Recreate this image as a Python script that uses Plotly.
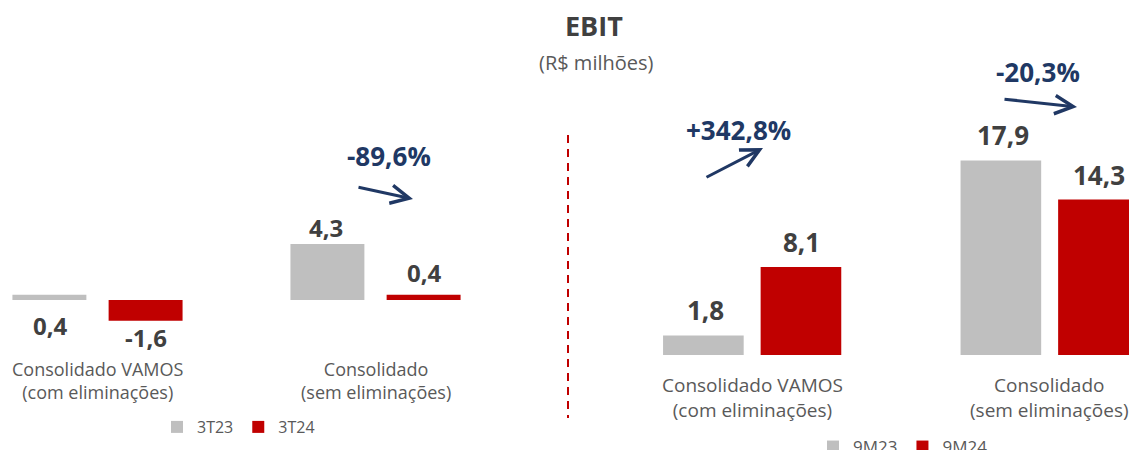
import plotly.graph_objects as go

W, H = 1129, 450

# ---------------- data ----------------
categories = ["Consolidado VAMOS<br>(com eliminações)", "Consolidado<br>(sem eliminações)"]
q_series = ["3T23", "3T24"]
q_3t23 = [0.4, 4.3]
q_3t24 = [-1.6, 0.4]
q_var = ["-89,6%"]          # variation shown for "Consolidado"

ytd_series = ["9M23", "9M24"]
ytd_9m23 = [1.8, 17.9]
ytd_9m24 = [8.1, 14.3]
ytd_var = ["+342,8%", "-20,3%"]

title = "EBIT"
subtitle = "(R$ milhões)"

# ---------------- styles ----------------
GRAY = "#BFBFBF"
RED = "#C00000"
NAVY = "#203864"
DARK = "#404040"
MID = "#595959"
FONT = "Open Sans"


def fmt(v):
    return f"{v:.1f}".replace(".", ",")


def px_x(p):
    return p / W


def px_y(p):
    return 1 - p / H


fig = go.Figure()

# bar geometry (category units)
L_W, L_OFF_A, L_OFF_B = 0.266, -0.306, 0.040
R_W, R_OFF_A, R_OFF_B = 0.271, -0.299, 0.029

fig.add_trace(go.Bar(x=categories, y=q_3t23, name=q_series[0], marker_color=GRAY,
                     marker_line_width=0, width=L_W, offset=L_OFF_A,
                     xaxis="x", yaxis="y", legend="legend"))
fig.add_trace(go.Bar(x=categories, y=q_3t24, name=q_series[1], marker_color=RED,
                     marker_line_width=0, width=L_W, offset=L_OFF_B,
                     xaxis="x", yaxis="y", legend="legend"))
fig.add_trace(go.Bar(x=categories, y=ytd_9m23, name=ytd_series[0], marker_color=GRAY,
                     marker_line_width=0, width=R_W, offset=R_OFF_A,
                     xaxis="x2", yaxis="y2", legend="legend2"))
fig.add_trace(go.Bar(x=categories, y=ytd_9m24, name=ytd_series[1], marker_color=RED,
                     marker_line_width=0, width=R_W, offset=R_OFF_B,
                     xaxis="x2", yaxis="y2", legend="legend2"))

ann = []
C = dict(xanchor="center", yanchor="middle", showarrow=False)

# value labels, left panel
val_font_l = dict(family=FONT, size=24, color=DARK)
ann.append(dict(x=categories[0], y=q_3t23[0], xref="x", yref="y", text="<b>" + fmt(q_3t23[0]) + "</b>",
                xshift=-47, yshift=-31, font=val_font_l, **C))
ann.append(dict(x=categories[0], y=q_3t24[0], xref="x", yref="y", text="<b>" + fmt(q_3t24[0]) + "</b>",
                xshift=48, yshift=-17, font=val_font_l, **C))
ann.append(dict(x=categories[1], y=q_3t23[1], xref="x", yref="y", text="<b>" + fmt(q_3t23[1]) + "</b>",
                xshift=-50, yshift=17, font=val_font_l, **C))
ann.append(dict(x=categories[1], y=q_3t24[1], xref="x", yref="y", text="<b>" + fmt(q_3t24[1]) + "</b>",
                xshift=49, yshift=22, font=val_font_l, **C))

# value labels, right panel
val_font_r = dict(family=FONT, size=26, color=DARK)
for i in range(2):
    ann.append(dict(x=categories[i], y=ytd_9m23[i], xref="x2", yref="y2",
                    text="<b>" + fmt(ytd_9m23[i]) + "</b>",
                    xshift=-47, yshift=25, font=val_font_r, **C))
    ann.append(dict(x=categories[i], y=ytd_9m24[i], xref="x2", yref="y2",
                    text="<b>" + fmt(ytd_9m24[i]) + "</b>",
                    xshift=49, yshift=25, font=val_font_r, **C))

# category labels
for i, c in enumerate(categories):
    ann.append(dict(x=c, xref="x", y=px_y(380), yref="paper", text=c,
                    font=dict(family=FONT, size=18, color=MID), **C))
    ann.append(dict(x=c, xref="x2", y=px_y(397), yref="paper", text=c,
                    font=dict(family=FONT, size=19, color=MID), **C))

# variation labels and arrows
pct_font = dict(family=FONT, size=26, color=NAVY)
ann.append(dict(x=px_x(389), y=px_y(156), xref="paper", yref="paper", text="<b>" + q_var[0] + "</b>",
                font=pct_font, **C))
ann.append(dict(x=px_x(738), y=px_y(130), xref="paper", yref="paper", text="<b>" + ytd_var[0] + "</b>",
                font=pct_font, **C))
ann.append(dict(x=px_x(1038), y=px_y(72), xref="paper", yref="paper", text="<b>" + ytd_var[1] + "</b>",
                font=pct_font, **C))

for (tx, ty, hx, hy) in [(357, 187, 413, 199), (705, 178, 763, 148), (1003, 99, 1077, 107)]:
    ann.append(dict(x=px_x(hx), y=px_y(hy), xref="paper", yref="paper", text="",
                    showarrow=True, ax=tx - hx, ay=ty - hy, axref="pixel", ayref="pixel",
                    arrowhead=5, arrowsize=1.2, arrowwidth=3, arrowcolor=NAVY))

# titles
ann.append(dict(x=px_x(594), y=px_y(25), xref="paper", yref="paper", text="<b>" + title + "</b>",
                font=dict(family=FONT, size=27, color=DARK), **C))
ann.append(dict(x=px_x(596), y=px_y(62), xref="paper", yref="paper", text=subtitle,
                font=dict(family=FONT, size=20, color=MID), **C))

fig.update_layout(
    width=W, height=H,
    margin=dict(l=0, r=0, t=0, b=0, autoexpand=False),
    paper_bgcolor="white", plot_bgcolor="white",
    barmode="overlay",
    font=dict(family=FONT, color=MID),
    annotations=ann,
    shapes=[dict(type="line", xref="paper", yref="paper",
                 x0=px_x(568), x1=px_x(568), y0=px_y(135), y1=px_y(418),
                 line=dict(color=RED, width=2, dash="8px,6px"))],
    xaxis=dict(domain=[0, 568 / W], type="category", categoryorder="array",
               categoryarray=categories, range=[-0.3507, 1.6924], visible=False, fixedrange=True),
    yaxis=dict(domain=[0, 1], range=[-150 / 13.0, 300 / 13.0], visible=False, fixedrange=True),
    xaxis2=dict(domain=[568 / W, 1], type="category", categoryorder="array",
                categoryarray=categories, range=[-0.6185, 1.2672], visible=False, fixedrange=True),
    yaxis2=dict(domain=[0, 1], range=[-95 / 10.87, 355 / 10.87], visible=False, fixedrange=True,
                anchor="x2"),
    legend=dict(orientation="h", x=px_x(157), y=px_y(427), xanchor="left", yanchor="middle",
                font=dict(family=FONT, size=16, color=MID), bgcolor="rgba(0,0,0,0)",
                itemclick=False, itemdoubleclick=False),
    legend2=dict(orientation="h", x=px_x(813), y=px_y(447), xanchor="left", yanchor="middle",
                 font=dict(family=FONT, size=17, color=MID), bgcolor="rgba(0,0,0,0)",
                 itemclick=False, itemdoubleclick=False),
    showlegend=True,
)

fig.write_html("out.html", config={"displayModeBar": False},
               post_script="document.body.style.margin='0px';document.body.style.overflow='hidden';")
